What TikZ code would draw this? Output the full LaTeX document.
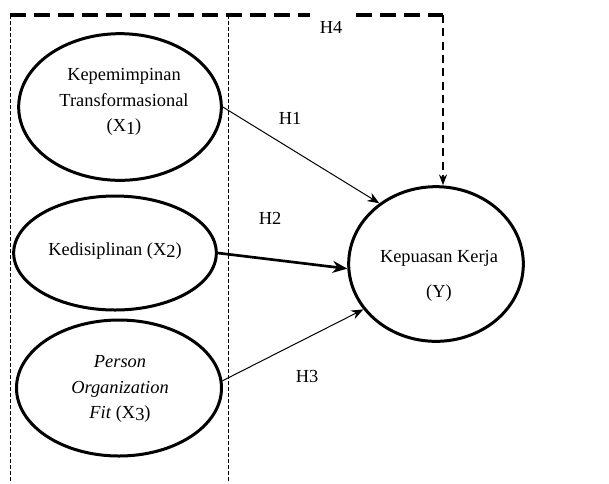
\documentclass[tikz,border=0pt]{standalone}
\usepackage{fontspec}
\setmainfont{Liberation Serif}
\usetikzlibrary{shapes.geometric}
\usetikzlibrary{arrows.meta}

\newcommand{\lowsub}[1]{\raisebox{-0.3ex}{#1}}

\tikzset{
  varbox/.style={draw, ellipse, line width=2.25pt, inner sep=0pt},
  lbl/.style={font=\fontsize{13.8}{19}\selectfont, align=center, inner sep=0pt},
  hyp/.style={font=\fontsize{13.8}{17}\selectfont, inner sep=0pt},
  thinpath/.style={line width=0.75pt, -{Stealth[length=9pt,width=7pt]}},
  thickpath/.style={line width=2pt, -{Stealth[length=11pt,width=9pt]}},
  boxline/.style={line width=0.75pt, dash pattern=on 3pt off 1.5pt},
  topline/.style={line width=3pt, dash pattern=on 12pt off 6pt},
  h4path/.style={line width=1.1pt, dash pattern=on 6pt off 4pt, -{Stealth[length=8pt,width=6pt]}}
}

\begin{document}
\begin{tikzpicture}[x=0.75pt,y=0.75pt,yscale=-1,xscale=1]
\useasboundingbox (0,0) rectangle (609,483);

% Box corners
\coordinate (tl) at (10,15);
\coordinate (tm) at (228,15);
\coordinate (tr) at (443,15);
\coordinate (gapl) at (310,15);
\coordinate (gapr) at (356,15);
\coordinate (bl) at (10,483);
\coordinate (bm) at (228,483);

% Variables
\node[varbox, minimum width=152pt, minimum height=110pt] (x1) at (120,107) {};
\node[varbox, minimum width=152pt, minimum height=85.5pt] (x2) at (115,253) {};
\node[varbox, minimum width=153.75pt, minimum height=102pt] (x3) at (119,388) {};
\node[varbox, minimum width=131pt, minimum height=116pt] (y) at (436,264) {};

% Text Node
\node[lbl] (x1txt) at (124,102) {Kepemimpinan\\Transformasional\\(X\lowsub{1})};
% Text Node
\node[lbl] (x2txt) at (115,251) {Kedisiplinan (X\lowsub{2})};
% Text Node
\node[lbl] (x3txt) at (120,389) {\textit{Person}\\\textit{Organization}\\\textit{Fit} (X\lowsub{3})};
% Text Node
\node[lbl] (ytxt) at (439,276) {Kepuasan Kerja\\[7pt](Y)};

% Dashed frame
\draw[topline] (tl) -- (gapl);
\draw[topline] (gapr) -- (tr);
\draw[boxline] (tl) -- (bl);
\draw[boxline] (tm) -- (bm);

% Hypotheses
\draw[thinpath] (x1.east) -- (y.133);
\draw[thickpath] (x2.east) -- (y.183);
\draw[thinpath] (x3.4) -- (y.212);
\draw[h4path] (tr) -- (tr |- y.north);

% Text Node
\node[hyp] (h1) at (290,118) {H1};
% Text Node
\node[hyp] (h2) at (270,218) {H2};
% Text Node
\node[hyp] (h3) at (307,376) {H3};
% Text Node
\node[hyp] (h4) at (331,27) {H4};

\end{tikzpicture}
\end{document}
